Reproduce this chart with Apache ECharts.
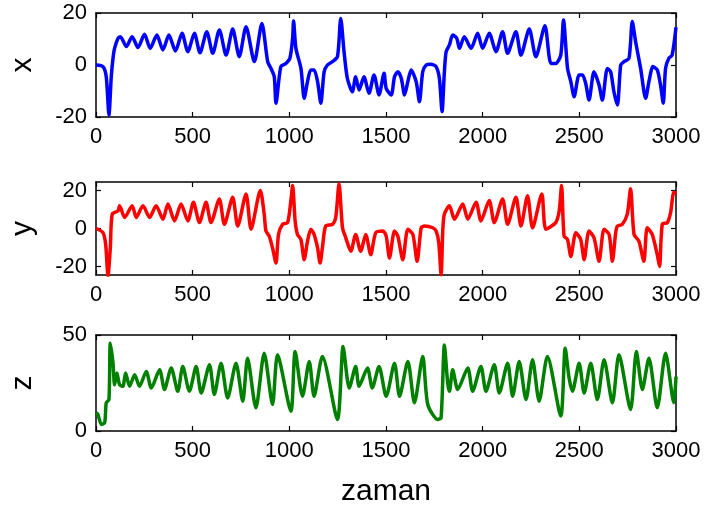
<!DOCTYPE html>
<html><head><meta charset="utf-8">
<script src="https://cdn.jsdelivr.net/npm/echarts@6/dist/echarts.min.js"></script>
<style>html,body{margin:0;padding:0;background:#fff}#c{width:707px;height:508px}</style>
</head><body><div id="c"></div>
<script>
const timeTicks = [0, 500, 1000, 1500, 2000, 2500, 3000];
const xTicks = [-20, 0, 20];
const yTicks = [-20, 0, 20];
const zTicks = [0, 50];

const xT = [0,36,53,67,79,88,96,114,126,157,187,217,251,280,315,346,377,411,445,475,509,538,573,604,638,673,707,741,776,819,858,888,905,922,931,956,982,1003,1017,1022,1034,1060,1077,1094,1111,1128,1146,1163,1180,1197,1223,1249,1266,1283,1300,1326,1343,1361,1386,1412,1438,1464,1490,1501,1527,1544,1561,1579,1596,1613,1630,1656,1673,1690,1708,1733,1759,1776,1790,1802,1811,1828,1845,1866,1880,1905,1940,1974,2000,2034,2069,2103,2129,2172,2198,2241,2275,2322,2353,2378,2404,2418,2439,2456,2473,2499,2516,2533,2550,2576,2602,2619,2645,2662,2679,2697,2714,2731,2757,2774,2791,2817,2843,2860,2881,2903,2920,2934,2946,2963,2980,3000];
const xV = [0,-0.6,-4.5,-19.2,-4.5,2.6,6.4,10.3,10.9,7.1,10.9,6.7,11.8,6.4,11.5,5.8,11.5,5.4,12.2,5.1,12.2,4.7,12.8,4.5,13.5,3.8,13.8,3.2,14.7,1.3,16.0,1.3,-1.3,-4.5,-14.7,-0.6,0.6,2.6,10.3,16.9,6.4,-1.3,-12.8,-6.4,-1.9,-1.9,-6.4,-14.7,-2.6,0,1.3,3.2,17.9,5.1,-5.1,-10.3,-4.5,-9.6,-4.5,-10.9,-3.8,-11.5,-3.2,-9.0,-11.5,-4.5,-2.6,-5.1,-11.5,-6.4,-1.9,-6.4,-14.1,-2.6,0,0.3,-0.6,-5.1,-17.9,-2.6,5.1,7.7,11.5,10.3,6.4,10.9,6.4,12.2,6.4,12.2,5.1,12.8,4.5,12.8,3.8,13.8,3.2,15.1,0.6,0.6,3.8,17.3,-1.3,-6.4,-12.2,-3.8,-3.8,-7.1,-13.5,-2.6,-7.7,-13.5,-1.3,-2.6,-10.3,-15.4,0,1.3,2.6,16.7,9.0,-1.3,-12.8,-6.4,-0.6,-1.9,-7.7,-14.7,-1.3,2.6,3.8,14.5];

const yT = [0,36,50,62,74,84,114,122,148,187,208,243,277,311,346,372,406,440,475,504,535,569,595,638,664,707,733,776,802,850,870,879,896,913,931,944,965,991,1008,1017,1030,1042,1060,1077,1094,1111,1128,1146,1159,1171,1188,1223,1240,1257,1275,1292,1318,1343,1369,1395,1421,1447,1484,1501,1518,1544,1561,1587,1613,1639,1661,1682,1699,1742,1759,1773,1785,1794,1802,1828,1854,1897,1923,1966,1991,2034,2060,2103,2129,2172,2198,2232,2258,2306,2327,2378,2396,2408,2421,2439,2456,2482,2507,2525,2550,2576,2602,2628,2654,2671,2688,2697,2722,2748,2765,2783,2808,2834,2851,2877,2903,2915,2929,2955,2972,2989,3000];
const yV = [0,-2.2,-8.4,-25,-10.2,7.6,9.3,12.0,5.8,12.0,5.8,12.0,5.8,12.0,4.9,12.9,4.0,12.9,4.0,13.8,3.1,13.8,3.1,15.6,2.2,16.4,1.3,18.2,-0.4,20.0,7.6,-1.3,-4.0,-10.2,-18.2,-3.1,2.2,3.1,14.7,22.7,4.0,-3.1,-5.8,-16.4,-6.7,-0.4,-3.1,-10.2,-18.2,-10.2,1.3,2.2,5.8,23.6,0.4,-4.9,-12.0,-3.1,-12.0,-3.1,-13.8,-2.2,-1.3,-4.0,-15.6,-1.3,-4.0,-16.4,-0.4,-3.1,-17.3,0.4,1.3,0.4,-1.3,-7.6,-24.4,-0.4,7.6,12.0,4.9,12.9,4.9,13.8,4.0,14.7,3.1,15.6,2.2,16.4,1.3,17.3,0.4,18.2,-0.4,3.1,9.3,22.7,-4.0,-5.8,-14.7,-2.2,-5.8,-16.4,-1.3,-4.9,-17.3,-0.4,-3.1,-17.3,-2.2,1.3,2.2,7.6,20.9,-3.1,-6.7,-17.3,0.4,-3.1,-13.8,-20.0,2.2,3.1,8.4,19.1,18.5];

const zT = [0,10,28,45,53,67,74,88,96,108,122,139,153,174,200,225,260,286,329,354,389,423,449,483,518,544,587,612,647,681,724,759,784,827,870,913,939,1008,1030,1068,1103,1128,1171,1249,1278,1300,1309,1343,1361,1404,1429,1464,1501,1544,1570,1613,1647,1690,1716,1768,1785,1802,1819,1828,1845,1871,1923,1948,1991,2017,2060,2086,2129,2155,2189,2224,2258,2292,2335,2404,2427,2447,2464,2499,2525,2559,2593,2628,2671,2705,2765,2795,2826,2860,2903,2946,2989,3000];
const zV = [9.5,8.6,3.4,4.3,14.7,16.4,45.7,35.3,24.1,30.2,24.1,23.3,30.2,23.3,29.3,23.3,31.0,22.4,31.9,21.6,32.8,20.7,33.6,20.7,33.6,19.8,34.5,19.0,35.3,17.2,35.3,15.5,37.9,12.1,40.5,13.8,39.7,10.3,41.4,18.1,36.2,18.1,38.8,6.0,44.0,26.7,22.4,33.6,23.3,32.8,22.4,33.6,18.1,35.3,18.1,36.2,14.7,38.8,13.8,6.0,6.9,44.8,25.0,20.7,31.9,21.6,32.8,20.7,33.6,20.7,34.5,19.8,35.3,18.1,36.2,16.4,37.1,15.5,38.8,7.8,43.1,27.6,20.7,35.3,19.8,35.3,16.4,37.1,14.7,39.7,11.2,41.4,21.6,37.9,12.1,40.5,14.7,28.4];

const zip = (t, v) => t.map((d, i) => [d, v[i]]);
const FONT = 'Liberation Sans, Arial, sans-serif';
const plain = (v) => String(v);

const panels = [
  { name: 'x', color: '#0000FF', data: zip(xT, xV), min: -20, max: 20, ticks: xTicks, grid: { left: 94, top: 13, width: 582, height: 104 } },
  { name: 'y', color: '#FF0000', data: zip(yT, yV), min: -24.5, max: 24.5, ticks: yTicks, grid: { left: 94, top: 182, width: 582, height: 93 } },
  { name: 'z', color: '#008000', data: zip(zT, zV), min: 0, max: 50, ticks: zTicks, grid: { left: 94, top: 335, width: 582, height: 97 } }
];

const axisLine = { show: true, onZero: false, lineStyle: { color: '#000', width: 1.5 } };
const tick = (vals) => ({ show: true, inside: true, length: 5, customValues: vals, lineStyle: { color: '#000', width: 1.2 } });
const grid = [], xAxis = [], yAxis = [], series = [];
panels.forEach((p, i) => {
  grid.push(p.grid);
  xAxis.push({ type: 'value', gridIndex: i, min: 0, max: 3000, position: 'bottom',
    axisLine, axisTick: tick(timeTicks), splitLine: { show: false },
    axisLabel: { customValues: timeTicks, formatter: plain, color: '#000', fontSize: 22, fontFamily: FONT, margin: 9 } });
  xAxis.push({ type: 'value', gridIndex: i, min: 0, max: 3000, position: 'top',
    axisLine, axisTick: tick(timeTicks), splitLine: { show: false }, axisLabel: { show: false } });
  yAxis.push({ type: 'value', gridIndex: i, min: p.min, max: p.max, position: 'left',
    name: p.name, nameLocation: 'middle', nameRotate: 90, nameGap: 58,
    nameTextStyle: { color: '#000', fontSize: 30, fontFamily: FONT },
    axisLine, axisTick: tick(p.ticks), splitLine: { show: false },
    axisLabel: { customValues: p.ticks, formatter: plain, color: '#000', fontSize: 22, fontFamily: FONT, margin: 9 } });
  yAxis.push({ type: 'value', gridIndex: i, min: p.min, max: p.max, position: 'right',
    axisLine, axisTick: tick(p.ticks), splitLine: { show: false }, axisLabel: { show: false } });
  series.push({ type: 'line', xAxisIndex: 2 * i, yAxisIndex: 2 * i, data: p.data,
    showSymbol: false, smooth: 0.25, clip: true, animation: false,
    lineStyle: { color: p.color, width: 3.5 }, itemStyle: { color: p.color } });
});
xAxis[4].name = 'zaman';
xAxis[4].nameLocation = 'middle';
xAxis[4].nameGap = 46;
xAxis[4].nameTextStyle = { color: '#000', fontSize: 30, fontFamily: FONT };

const chart = echarts.init(document.getElementById('c'), null, { renderer: 'canvas' });
chart.setOption({ backgroundColor: '#fff', animation: false, grid, xAxis, yAxis, series });
</script>
</body></html>
